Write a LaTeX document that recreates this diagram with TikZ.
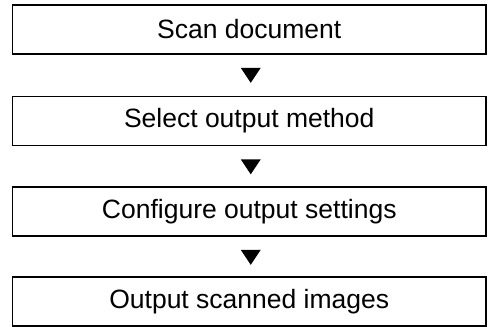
\documentclass[tikz,border=0pt]{standalone}
\usepackage{fontspec}
\setmainfont{Liberation Sans}
\usetikzlibrary{calc}
\begin{document}
\begin{tikzpicture}[x=1pt,y=1pt,
  stepbox/.style={draw=black,line width=1.6pt,minimum width=473.5pt,minimum height=49pt,inner sep=0pt,font=\fontsize{26.5}{30}\selectfont,anchor=center},
  tri/.style={fill=black}]
\useasboundingbox (0,0) rectangle (491,-327);
\node[stepbox] (a) at (249.25,-29.5) {Scan document};
\node[stepbox] (b) at (249.25,-121) {Select output method};
\node[stepbox] (c) at (249.25,-211.5) {Configure output settings};
\node[stepbox] (d) at (249.25,-301.5) {Output scanned images};
\foreach \u in {a,b,c}{
  \fill[tri] ($(\u.south)+(-8.5,-13)$) -- ++(20,0) -- ++(-10,-15) -- cycle;
}
\end{tikzpicture}
\end{document}
